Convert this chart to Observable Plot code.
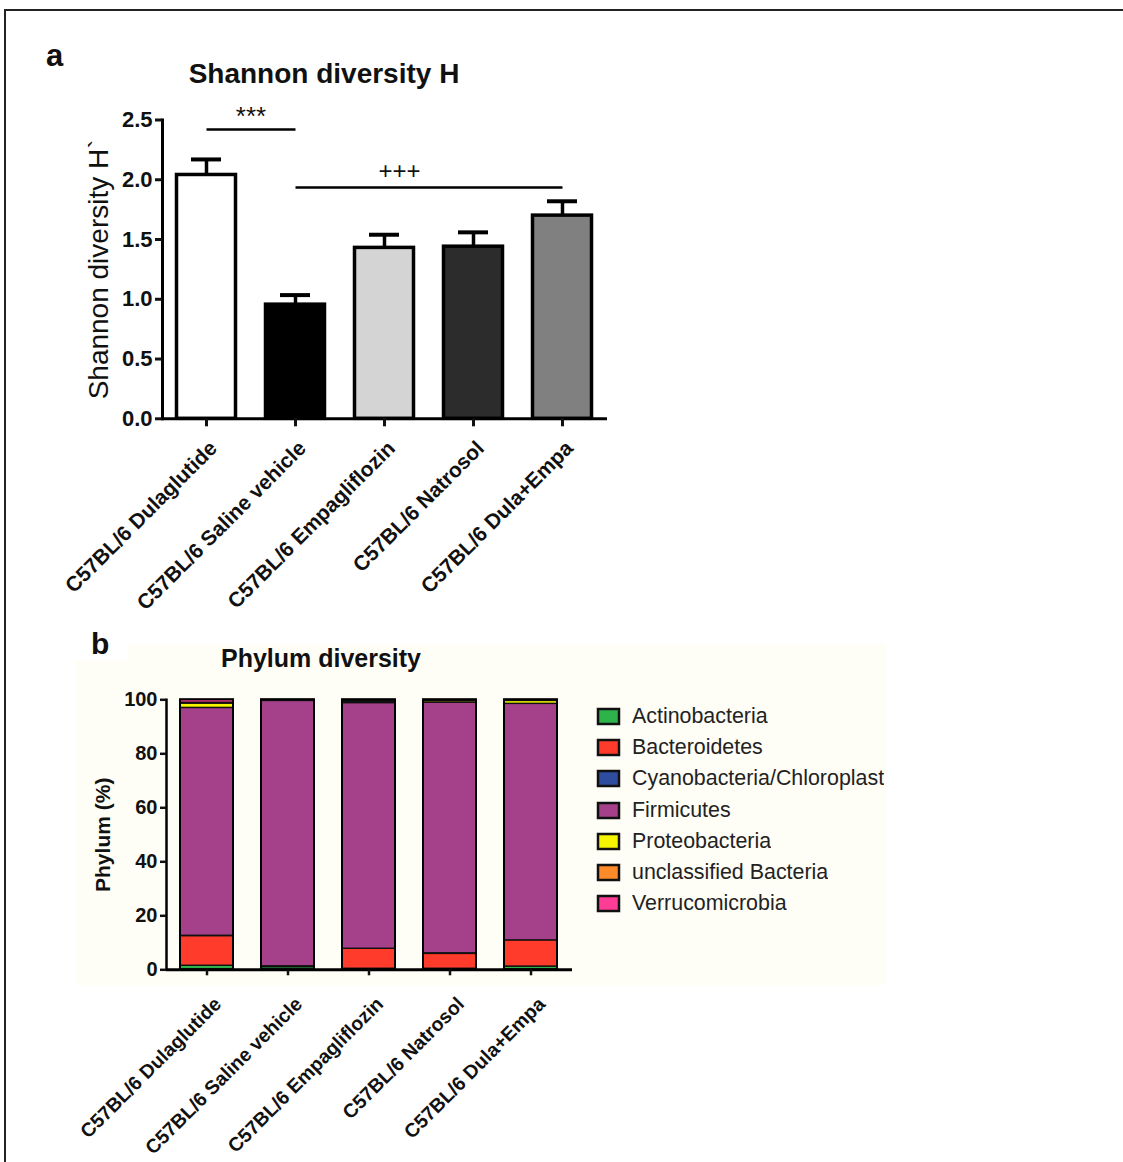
<!DOCTYPE html>
<html>
<head>
<meta charset="utf-8">
<script src="https://cdn.jsdelivr.net/npm/d3@7"></script>
<script src="https://cdn.jsdelivr.net/npm/@observablehq/plot@0.6"></script>
<style>
  html, body { margin: 0; padding: 0; background: #fff; }
  #page { position: relative; width: 1123px; height: 1162px; overflow: hidden; background: #fff;
          font-family: "Liberation Sans", Arial, sans-serif; color: #111; }
  .border { position: absolute; left: 4px; top: 9px; width: 1200px; height: 1200px;
            border-top: 2px solid #222; border-left: 2px solid #222; }
  .cream { position: absolute; left: 76px; top: 644px; width: 810px; height: 341px; background: #fefdf6; }
  .txt { position: absolute; white-space: nowrap; line-height: 1; }
  .panel { position: absolute; }
  .leg-swatches { font-family: "Liberation Sans", Arial, sans-serif !important; font-size: 21.4px !important; color: #222; margin: 0 !important; }
  .leg-swatch { height: 31.2px; padding-bottom: 0 !important; display: flex; align-items: center; }
  .leg-swatch svg { margin-right: 13px !important; overflow: visible; }
  .leg-swatch svg rect { stroke: #111; stroke-width: 2.5px; }
</style>
</head>
<body>
<div id="page">
  <div class="border"></div>
  <div class="cream"></div>
  <div class="txt" style="left:76px;top:630px;width:52px;height:30px;background:#fff;"></div>
  <div class="txt" style="left:46px;top:40px;font-size:31px;font-weight:bold;">a</div>
  <div class="txt" id="titleA" style="left:124px;top:60px;width:400px;text-align:center;font-size:28px;font-weight:bold;">Shannon diversity H</div>
  <div class="txt" style="left:91px;top:629px;font-size:30px;font-weight:bold;">b</div>
  <div class="txt" id="titleB" style="left:171px;top:646px;width:300px;text-align:center;font-size:25px;font-weight:bold;">Phylum diversity</div>
  <div class="panel" id="chartA" style="left:0px;top:0px;width:640px;"></div>
  <div class="panel" id="chartB" style="left:0px;top:640px;width:600px;"></div>
  <div class="panel" id="legendB" style="left:598px;top:701px;width:320px;"></div>
</div>
<script>
// ---------- data ----------
const groups = ["C57BL/6 Dulaglutide", "C57BL/6 Saline vehicle", "C57BL/6 Empagliflozin", "C57BL/6 Natrosol", "C57BL/6 Dula+Empa"];

// panel a: Shannon diversity
const shannonMean = [2.04, 0.955, 1.43, 1.44, 1.70];
const shannonSem  = [0.13, 0.08, 0.11, 0.12, 0.12];
const shannonFill = ["#ffffff", "#000000", "#d4d4d4", "#2c2c2c", "#808080"];
const yTicksA = [0, 0.5, 1.0, 1.5, 2.0, 2.5];
const sigLabels = ["***", "+++"];
const sigFrom = [0, 1];
const sigTo = [1, 4];
const sigLevel = [2.42, 1.935];

// panel b: Phylum diversity (%)
const phyla = ["Actinobacteria", "Bacteroidetes", "Cyanobacteria/Chloroplast", "Firmicutes", "Proteobacteria", "unclassified Bacteria", "Verrucomicrobia"];
const phylaColors = ["#2db34a", "#ff3b2b", "#2e4d9e", "#a5408b", "#f5f500", "#ff8a2a", "#ff3c96"];
const actinobacteria = [1.5, 1.0, 0.4, 0.4, 1.2];
const bacteroidetes  = [11.0, 0.3, 7.4, 5.5, 9.7];
const cyanobacteria  = [0.1, 0.0, 0.0, 0.2, 0.0];
const firmicutes     = [84.4, 98.3, 91.0, 92.9, 87.6];
const proteobacteria = [1.6, 0.2, 0.4, 0.6, 1.1];
const unclassified   = [0.3, 0.1, 0.4, 0.2, 0.2];
const verrucomicrobia = [1.1, 0.1, 0.4, 0.2, 0.2];
const yTicksB = [0, 20, 40, 60, 80, 100];

// ---------- tables ----------
const font = "Liberation Sans, Arial, sans-serif";
const dataA = groups.map((g, i) => ({group: g, mean: shannonMean[i], top: shannonMean[i] + shannonSem[i], fill: shannonFill[i]}));
const sig = sigLabels.map((l, i) => ({label: l, from: groups[sigFrom[i]], to: groups[sigTo[i]], level: sigLevel[i]}));
const series = [actinobacteria, bacteroidetes, cyanobacteria, firmicutes, proteobacteria, unclassified, verrucomicrobia];
const dataB = [];
groups.forEach((g, i) => phyla.forEach((p, j) => dataB.push({group: g, phylum: p, value: series[j][i]})));

// ---------- panel a ----------
const chartA = Plot.plot({
  width: 640, height: 620,
  marginLeft: 162, marginRight: 33, marginTop: 119.5, marginBottom: 201.7,
  style: {fontFamily: font, background: "transparent", color: "#111"},
  x: {domain: groups, paddingInner: 0.3, paddingOuter: 0.15},
  y: {domain: [0, 2.5]},
  color: {type: "identity"},
  marks: [
    Plot.ruleX(dataA, {x: "group", y1: "mean", y2: "top", stroke: "#000", strokeWidth: 3.5}),
    Plot.tickY(dataA, {x: "group", y: "top", insetLeft: 16, insetRight: 16, stroke: "#000", strokeWidth: 4}),
    Plot.barY(dataA, {x: "group", y: "mean", fill: "fill", stroke: "#000", strokeWidth: 3.5, insetLeft: 1.5, insetRight: 1.5}),
    Plot.ruleY([0], {stroke: "#000", strokeWidth: 3}),
    Plot.frame({anchor: "left", stroke: "#000", strokeWidth: 3}),
    Plot.axisY({ticks: yTicksA, tickFormat: d => d.toFixed(1), tickSize: 7, tickPadding: 3, strokeWidth: 3, fontSize: 22, fontWeight: "bold", label: null}),
    Plot.axisY({ticks: [], label: "Shannon diversity H`", labelAnchor: "center", labelOffset: 74, fontSize: 28, fontWeight: "normal", labelArrow: "none"}),
    Plot.axisX({tickSize: 8, strokeWidth: 3, fill: "none", label: null}),
    Plot.axisX({tickSize: 0, tickPadding: 26, tickRotate: -45, dx: 7, fontSize: 21, fontWeight: "bold", label: null}),
    Plot.link(sig, {x1: "from", x2: "to", y1: "level", y2: "level", stroke: "#000", strokeWidth: 2.5}),
    Plot.text(sig.slice(0, 1), {x: "from", y: "level", text: "label", dx: 44.5, dy: -13, fontSize: 26, lineAnchor: "middle"}),
    Plot.text(sig.slice(1), {x: d => groups[2], y: "level", text: "label", dx: 15, dy: -16, fontSize: 24, lineAnchor: "middle"})
  ]
});
document.getElementById("chartA").appendChild(chartA);

// ---------- panel b ----------
const chartB = Plot.plot({
  width: 600, height: 520,
  marginLeft: 166, marginRight: 28, marginTop: 59.3, marginBottom: 190.7,
  style: {fontFamily: font, background: "transparent", color: "#111"},
  x: {domain: groups, paddingInner: 0.345, paddingOuter: 0.1725},
  y: {domain: [0, 100]},
  color: {domain: phyla, range: phylaColors},
  marks: [
    Plot.barY(dataB, {x: "group", y: "value", fill: "phylum", order: phyla, stroke: "#111", strokeWidth: 1.4}),
    Plot.barY(dataB, Plot.groupX({y: "sum"}, {x: "group", y: "value", fill: "none", stroke: "#000", strokeWidth: 2})),
    Plot.ruleY([0], {stroke: "#000", strokeWidth: 3}),
    Plot.frame({anchor: "left", stroke: "#000", strokeWidth: 2.5}),
    Plot.axisY({ticks: yTicksB, tickSize: 6, tickPadding: 3, strokeWidth: 2.5, fontSize: 20, fontWeight: "bold", label: null}),
    Plot.axisY({ticks: [], label: "Phylum (%)", labelAnchor: "center", labelOffset: 71, fontSize: 21, fontWeight: "bold", labelArrow: "none"}),
    Plot.axisX({tickSize: 6, strokeWidth: 2.5, fill: "none", label: null}),
    Plot.axisX({tickSize: 0, tickPadding: 31, tickRotate: -45, dx: 11, fontSize: 19.5, fontWeight: "bold", label: null})
  ]
});
document.getElementById("chartB").appendChild(chartB);

// ---------- legend ----------
const legend = chartB.legend("color", {legend: "swatches", columns: 1, className: "leg", swatchWidth: 21, swatchHeight: 15});
document.getElementById("legendB").appendChild(legend);
</script>
</body>
</html>
